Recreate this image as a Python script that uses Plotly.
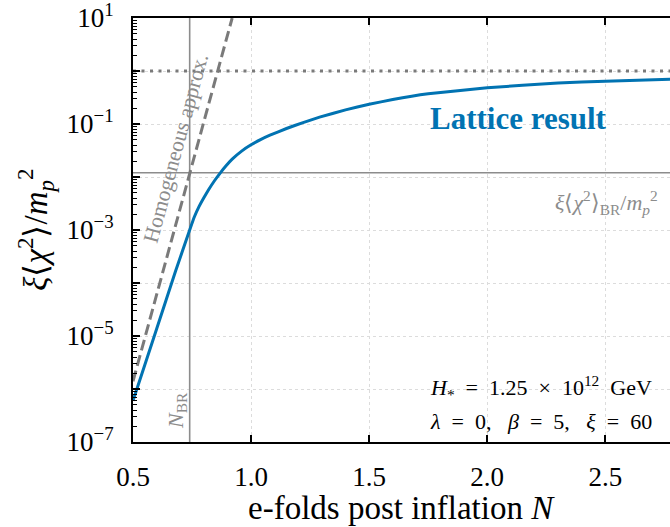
import plotly.graph_objects as go

# ---- data ----
N_lattice = [0.50, 0.60, 0.68, 0.74, 0.76, 0.78, 0.80, 0.82, 0.845, 0.87, 0.895, 0.92,
             0.96, 1.00, 1.04, 1.08, 1.15, 1.22, 1.29, 1.40, 1.50, 1.60, 1.75, 2.00,
             2.30, 2.50, 2.78]
chi_lattice = [6.0e-7, 1.35e-5, 1.66e-4, 1.0e-3, 1.78e-3, 2.8e-3, 4.07e-3, 5.75e-3,
               8.5e-3, 1.2e-2, 1.644e-2, 2.173e-2, 3.083e-2, 4.046e-2, 5.07e-2,
               6.15e-2, 8.22e-2, 0.1064, 0.1346, 0.185, 0.2355, 0.290, 0.3715,
               0.484, 0.5916, 0.643, 0.703]
N_homog = [0.50, 0.74, 0.92]
chi_homog = [1.4e-6, 1.15e-2, 10.0]
N_BR = 0.74
chi_BR = 0.012
chi_sat = 1.0
x_range = [0.5, 2.774]
x_ticks = [0.5, 1.0, 1.5, 2.0, 2.5]
x_ticktext = ["0.5", "1.0", "1.5", "2.0", "2.5"]
y_exps = [1, 0, -1, -2, -3, -4, -5, -6, -7]

FONT = "Liberation Serif"
BLUE = "#0173B2"
GRAY = "#7a7a7a"
LGRAY = "#8c8c8c"

y_tickvals = [10.0 ** e for e in y_exps]
y_ticktext = [("10<sup>%s</sup>" % (str(e).replace("-", "−"))) if e % 2 else "" for e in y_exps]
minor_vals = [m * 10.0 ** e for e in range(-7, 1) for m in range(2, 10)]

fig = go.Figure()
fig.add_trace(go.Scatter(x=[N_BR, N_BR], y=[1e-7, 10], mode="lines",
                         line=dict(color=LGRAY, width=1.6), hoverinfo="skip"))
fig.add_trace(go.Scatter(x=x_range, y=[chi_BR, chi_BR], mode="lines",
                         line=dict(color=LGRAY, width=1.6), hoverinfo="skip"))
fig.add_trace(go.Scatter(x=x_range, y=[chi_sat, chi_sat], mode="lines",
                         line=dict(color=GRAY, width=3, dash="3px,5.5px"), hoverinfo="skip"))
fig.add_trace(go.Scatter(x=N_homog, y=chi_homog, mode="lines",
                         line=dict(color=GRAY, width=3, dash="11px,5px")))
fig.add_trace(go.Scatter(x=N_lattice, y=chi_lattice, mode="lines",
                         line=dict(color=BLUE, width=3, shape="spline", smoothing=0.3)))

def A(text, x, y, size, color, angle=0, xa="center", ya="middle"):
    return dict(text=text, x=x, y=y, xref="paper", yref="paper", textangle=angle,
                xanchor=xa, yanchor=ya, showarrow=False,
                font=dict(family=FONT, size=size, color=color))

ann = [
    A("Homogeneous approx.", 0.0796, 0.694, 21.5, LGRAY, angle=-74.7),
    A("<i>N</i><sub>BR</sub>", 0.0814, 0.075, 22, LGRAY, angle=-90),
    A("<i>ξ</i>⟨<i>χ</i><sup>2</sup>⟩<sub>BR</sub>/<i>m</i><sub><i>p</i></sub><sup>2</sup>",
      0.981, 0.566, 22, LGRAY, xa="right"),
    A("<b>Lattice result</b>", 0.717, 0.762, 31, BLUE),
    A("<i>H</i><sub>*</sub>  =  1.25  ×  10<sup>12</sup>  GeV", 0.549, 0.129, 22, "black", xa="left"),
    A("<i>λ</i>  =  0,   <i>β</i>  =  5,   <i>ξ</i>  =  60", 0.549, 0.049, 22, "black", xa="left"),
    A("<i>ξ</i>⟨<i>χ</i><sup>2</sup>⟩/<i>m</i><sub><i>p</i></sub><sup>2</sup>",
      -0.183, 0.5, 33, "black", angle=-90),
    A("e-folds post inflation <i>N</i>", 0.5, -0.155, 33, "black"),
]

fig.update_layout(
    width=670, height=527,
    margin=dict(l=133, r=0, t=18, b=85, autoexpand=False),
    paper_bgcolor="white", plot_bgcolor="white",
    showlegend=False,
    font=dict(family=FONT, size=27, color="black"),
    annotations=ann,
    xaxis=dict(range=x_range, tickvals=x_ticks, ticktext=x_ticktext, automargin=False,
               ticks="inside", ticklen=7, tickwidth=1.5, tickcolor="black",
               showline=True, linecolor="black", linewidth=2, mirror="ticks",
               showgrid=True, gridcolor="#dcdcdc", griddash="dot", gridwidth=1,
               zeroline=False, ticklabelstandoff=10, ticklabeloverflow="allow"),
    yaxis=dict(type="log", range=[-7, 1], tickvals=y_tickvals, ticktext=y_ticktext,
               automargin=False,
               ticks="inside", ticklen=7, tickwidth=1.5, tickcolor="black",
               showline=True, linecolor="black", linewidth=2,
               showgrid=True, gridcolor="#dcdcdc", griddash="dot", gridwidth=1,
               zeroline=False, ticklabelstandoff=12, ticklabeloverflow="allow",
               minor=dict(tickvals=minor_vals, ticks="inside", ticklen=4,
                          tickwidth=1, tickcolor="black", showgrid=False)),
)

fig.write_html("out.html", config={"displayModeBar": False},
               post_script="document.body.style.margin='0';")
